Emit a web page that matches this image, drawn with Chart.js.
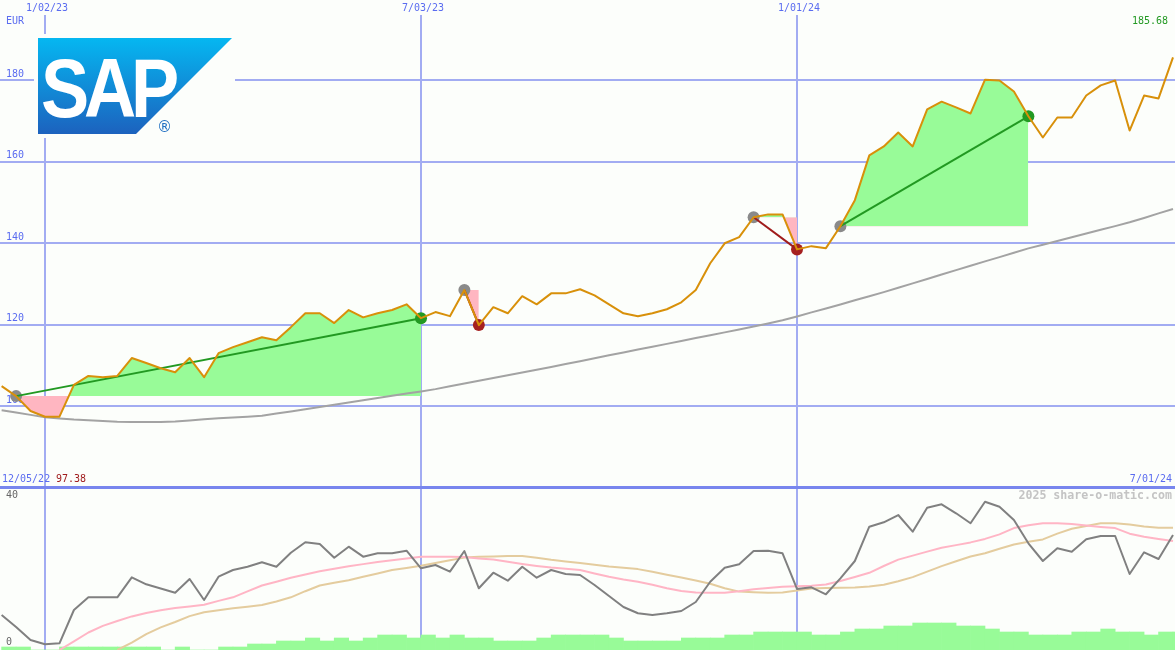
<!DOCTYPE html>
<html>
<head>
<meta charset="utf-8">
<title>SAP</title>
<script src="https://cdn.jsdelivr.net/npm/chart.js@4.4.1/dist/chart.umd.min.js"></script>
<style>
  html, body { margin: 0; padding: 0; background: #fcfefb; }
  #wrap { position: relative; width: 1175px; height: 650px; overflow: hidden; }
  #priceChart { position: absolute; left: 0; top: 0; }
  #oscChart { position: absolute; left: 0; top: 489px; }
</style>
</head>
<body>
<div id="wrap">
  <canvas id="priceChart" width="1175" height="489"></canvas>
  <canvas id="oscChart" width="1175" height="161"></canvas>
</div>
<script>
// weekly data, week 0 = 1/02/23, first point is week -3
const weekOffset = -3;

const price = [104.9, 102.45, 98.8, 97.38, 97.4, 105.2, 107.4, 107.1, 107.4, 111.8,
  110.6, 109.3, 108.3, 111.8, 107.1, 113.0, 114.5, 115.7, 116.9, 116.2,
  119.4, 122.8, 122.8, 120.4, 123.6, 121.8, 122.8, 123.6, 125.0, 121.6,
  123.1, 122.1, 128.5, 119.9, 124.3, 122.8, 127.0, 125.0, 127.7, 127.7,
  128.7, 127.2, 125.0, 122.8, 122.1, 122.8, 123.8, 125.5, 128.5, 135.1,
  140.0, 141.5, 146.4, 147.1, 147.1, 138.5, 139.3, 138.8, 144.2, 150.6,
  161.6, 163.8, 167.2, 163.8, 172.9, 174.8, 173.4, 171.9, 180.2, 180.0,
  177.3, 171.2, 166.0, 170.9, 170.9, 176.3, 178.8, 180.0, 167.7, 176.3,
  175.6, 185.68];

const priceAvg = [98.97, 98.43, 97.84, 97.25, 96.96, 96.71, 96.54, 96.34, 96.15, 96.07,
  96.07, 96.07, 96.22, 96.49, 96.76, 97.03, 97.2, 97.4, 97.62, 98.16,
  98.67, 99.21, 99.78, 100.34, 100.88, 101.45, 101.99, 102.53, 103.07, 103.58,
  104.17, 104.86, 105.55, 106.21, 106.9, 107.56, 108.25, 108.93, 109.62, 110.33,
  111.04, 111.75, 112.47, 113.15, 113.89, 114.58, 115.29, 116.0, 116.71, 117.42,
  118.11, 118.82, 119.53, 120.27, 121.08, 122.01, 123.02, 124.0, 124.98, 125.99,
  126.97, 128.0, 129.08, 130.16, 131.24, 132.32, 133.4, 134.48, 135.56, 136.61,
  137.69, 138.75, 139.66, 140.56, 141.5, 142.4, 143.34, 144.22, 145.15, 146.23,
  147.34, 148.44];

const osc = [8.16, 4.9, 1.36, 0.19, 0.46, 9.52, 12.98, 12.98, 12.98, 18.42,
  16.52, 15.37, 14.23, 17.96, 12.24, 18.59, 20.41, 21.31, 22.5, 21.31,
  25.12, 27.95, 27.48, 23.76, 26.75, 24.03, 24.95, 24.95, 25.66, 20.87,
  21.77, 19.95, 25.58, 15.43, 19.67, 17.5, 21.31, 18.31, 20.41, 19.32,
  19.05, 16.33, 13.33, 10.34, 8.63, 8.16, 8.63, 9.25, 11.7, 17.22,
  21.03, 21.96, 25.58, 25.66, 24.95, 15.24, 15.7, 13.8, 18.15, 22.86,
  32.19, 33.39, 35.37, 30.83, 37.36, 38.29, 35.84, 33.12, 38.99, 37.63,
  34.01, 27.67, 22.86, 26.31, 25.39, 28.76, 29.66, 29.66, 19.32, 25.22,
  23.4, 29.93];

const oscFast = [null, null, null, null, -1.36, 0.98, 3.4, 5.2, 6.53, 7.78,
  8.73, 9.44, 10.07, 10.48, 10.94, 12.0, 12.98, 14.61, 16.19, 17.22,
  18.29, 19.21, 20.05, 20.73, 21.44, 22.01, 22.59, 23.07, 23.56, 24.03,
  24.03, 24.03, 23.95, 23.56, 23.24, 22.64, 22.04, 21.52, 21.06, 20.73,
  20.41, 19.48, 18.59, 17.85, 17.2, 16.41, 15.46, 14.72, 14.29, 14.23,
  14.23, 14.61, 15.16, 15.51, 15.86, 16.0, 16.14, 16.44, 17.44, 18.5,
  19.65, 21.5, 23.24, 24.33, 25.41, 26.48, 27.18, 27.92, 28.87, 30.1,
  31.81, 32.57, 33.12, 33.12, 32.93, 32.49, 32.11, 31.81, 30.29, 29.44,
  28.84, 28.3];

const oscSlow = [null, null, null, null, null, null, null, null, -1.36, 0.63,
  2.97, 4.79, 6.26, 7.86, 8.93, 9.47, 9.99, 10.42, 10.86, 11.86,
  12.98, 14.64, 16.19, 16.93, 17.63, 18.56, 19.48, 20.41, 20.98, 21.55,
  22.31, 23.07, 23.78, 24.0, 24.11, 24.22, 24.24, 23.73, 23.18, 22.75,
  22.29, 21.85, 21.36, 21.03, 20.65, 19.92, 19.13, 18.34, 17.55, 16.68,
  15.46, 14.53, 14.34, 14.23, 14.31, 14.86, 15.37, 15.48, 15.56, 15.67,
  15.95, 16.41, 17.36, 18.48, 19.95, 21.47, 22.78, 24.08, 24.95, 26.18,
  27.35, 28.11, 28.73, 30.31, 31.62, 32.38, 33.12, 33.12, 32.82, 32.27,
  31.92, 31.92];

const volume = [1, 1, 0, 0, 1, 1, 1, 1, 1, 1,
  1, 0, 1, 0, 0, 1, 1, 2, 2, 3,
  3, 4, 3, 4, 3, 4, 5, 5, 4, 5,
  4, 5, 4, 4, 3, 3, 3, 4, 5, 5,
  5, 5, 4, 3, 3, 3, 3, 4, 4, 4,
  5, 5, 6, 6, 6, 6, 5, 5, 6, 7,
  7, 8, 8, 9, 9, 9, 8, 8, 7, 6,
  6, 5, 5, 5, 6, 6, 7, 6, 6, 5,
  6, 6];

const dateTickWeeks = [0, 26, 52];
const dateTickLabels = ['1/02/23', '7/03/23', '1/01/24'];
const priceTicks = [100, 120, 140, 160, 180];
const oscTicks = [0, 40];

// trades: entry / exit week
const tradeEntry = [-2, 29, 49, 55];
const tradeExit = [26, 30, 52, 68];

const startLabel = '12/05/22';
const endLabel = '7/01/24';
const lowLabel = '97.38';
const lastLabel = '185.68';

// ---- styles
const BG = '#fcfefb';
const GRID = '#a2acf2';
const AXIS_BLUE = '#7886ee';
const LABEL_BLUE = '#5a6cf0';
const WIN = '#229922';
const LOSS = '#a01c1c';
const FONT = '10px "DejaVu Sans Mono", monospace';
const X_MIN = -3.112, X_MAX = 78.138;

const pts = arr => arr.map((v, i) => v === null ? null : {x: i + weekOffset, y: v}).filter(Boolean);
const at = w => price[w - weekOffset];

const tradeFills = tradeEntry.map((e, t) => ({
  data: price.slice(e - weekOffset, tradeExit[t] - weekOffset + 1).map((v, i) => ({x: e + i, y: v})),
  borderWidth: 0,
  borderColor: 'rgba(0,0,0,0)',
  pointRadius: 0,
  fill: {target: {value: at(e)}, above: '#98fb98', below: '#ffb6c1'},
  order: 5
}));

const trendLines = tradeEntry.map((e, t) => ({
  data: [{x: e, y: at(e)}, {x: tradeExit[t], y: at(tradeExit[t])}],
  borderColor: at(tradeExit[t]) >= at(e) ? WIN : LOSS,
  borderWidth: 2,
  pointRadius: 0,
  order: 2
}));

let markerData = [], markerColors = [];
tradeEntry.forEach((e, t) => {
  const x = tradeExit[t];
  markerData.push({x: e, y: at(e)});
  markerColors.push('#8a8a8a');
  markerData.push({x: x, y: at(x)});
  markerColors.push(at(x) >= at(e) ? WIN : '#a52020');
});

function drawLogo(ctx) {
  ctx.save();
  ctx.fillStyle = BG;
  ctx.fillRect(34, 34, 201, 104);
  const g = ctx.createLinearGradient(0, 38, 0, 134);
  g.addColorStop(0, '#05b7f1');
  g.addColorStop(1, '#1c62be');
  ctx.fillStyle = g;
  ctx.beginPath();
  ctx.moveTo(38, 38);
  ctx.lineTo(232, 38);
  ctx.lineTo(136, 134);
  ctx.lineTo(38, 134);
  ctx.closePath();
  ctx.fill();
  ctx.fillStyle = '#ffffff';
  ctx.font = 'bold 84px "Liberation Sans", Arial, sans-serif';
  ctx.letterSpacing = '-6px';
  ctx.textBaseline = 'alphabetic';
  ctx.translate(41, 117);
  ctx.scale(0.86, 1);
  ctx.fillText('SAP', 0, 0);
  ctx.restore();
  ctx.save();
  ctx.fillStyle = '#1f6fc2';
  ctx.font = '15px "DejaVu Sans", sans-serif';
  ctx.textBaseline = 'middle';
  ctx.fillText('\u00AE', 157, 128);
  ctx.restore();
}

const priceDecor = {
  id: 'priceDecor',
  beforeDatasetsDraw(chart) {
    const {ctx, chartArea, scales: {x, y}} = chart;
    ctx.save();
    ctx.lineWidth = 2;
    ctx.strokeStyle = GRID;
    priceTicks.forEach(v => {
      const py = Math.round(y.getPixelForValue(v));
      ctx.beginPath(); ctx.moveTo(0, py); ctx.lineTo(chart.width, py); ctx.stroke();
    });
    dateTickWeeks.forEach(w => {
      const px = Math.round(x.getPixelForValue(w));
      ctx.beginPath(); ctx.moveTo(px, chartArea.top); ctx.lineTo(px, chart.height); ctx.stroke();
    });
    ctx.font = FONT;
    ctx.fillStyle = LABEL_BLUE;
    ctx.textBaseline = 'middle';
    ctx.textAlign = 'left';
    priceTicks.forEach(v => ctx.fillText(String(v), 6, y.getPixelForValue(v) - 6));
    ctx.fillText('EUR', 6, 21);
    ctx.restore();
  },
  afterDraw(chart) {
    const {ctx, scales: {x}} = chart;
    drawLogo(ctx);
    ctx.save();
    ctx.font = FONT;
    ctx.textBaseline = 'middle';
    ctx.fillStyle = LABEL_BLUE;
    ctx.textAlign = 'center';
    dateTickWeeks.forEach((w, i) => ctx.fillText(dateTickLabels[i], x.getPixelForValue(w) + 2, 8));
    ctx.textAlign = 'left';
    ctx.fillText(startLabel, 2, 479);
    ctx.fillStyle = LOSS;
    ctx.fillText(lowLabel, 56, 479);
    ctx.textAlign = 'right';
    ctx.fillStyle = LABEL_BLUE;
    ctx.fillText(endLabel, 1172, 479);
    ctx.fillStyle = WIN;
    ctx.fillText(lastLabel, 1168, 21);
    ctx.fillStyle = AXIS_BLUE;
    ctx.fillRect(0, 486, chart.width, 3);
    ctx.restore();
  }
};

const oscDecor = {
  id: 'oscDecor',
  beforeDatasetsDraw(chart) {
    const {ctx, scales: {x, y}} = chart;
    ctx.save();
    ctx.lineWidth = 2;
    ctx.strokeStyle = GRID;
    dateTickWeeks.forEach(w => {
      const px = Math.round(x.getPixelForValue(w));
      ctx.beginPath(); ctx.moveTo(px, 0); ctx.lineTo(px, chart.height); ctx.stroke();
    });
    ctx.font = FONT;
    ctx.fillStyle = '#666666';
    ctx.textBaseline = 'middle';
    oscTicks.forEach(v => ctx.fillText(String(v), 6, y.getPixelForValue(v) - 2.5));
    ctx.restore();
  },
  afterDraw(chart) {
    const {ctx} = chart;
    ctx.save();
    ctx.font = 'bold 11.6px "DejaVu Sans Mono", monospace';
    ctx.fillStyle = '#c4c4c4';
    ctx.textAlign = 'right';
    ctx.textBaseline = 'middle';
    ctx.fillText('2025 share-o-matic.com', 1172, 7);
    ctx.restore();
  }
};

const commonOptions = {
  responsive: false,
  animation: false,
  events: [],
  plugins: { legend: { display: false }, tooltip: { enabled: false } },
  elements: { line: { tension: 0, borderJoinStyle: 'round' } }
};

new Chart(document.getElementById('priceChart'), {
  type: 'line',
  data: {
    datasets: [
      { data: pts(price), borderColor: '#d8900a', borderWidth: 2, pointRadius: 0, fill: false, order: 1 },
      ...trendLines,
      { data: markerData, showLine: false, pointRadius: 6, pointBorderWidth: 0,
        pointBackgroundColor: markerColors, order: 3 },
      { data: pts(priceAvg), borderColor: '#a3a3a3', borderWidth: 2, pointRadius: 0, fill: false, order: 4 },
      ...tradeFills
    ]
  },
  options: {
    ...commonOptions,
    layout: { autoPadding: false, padding: { top: 15, left: 0, right: 0, bottom: 0 } },
    scales: {
      x: { type: 'linear', min: X_MIN, max: X_MAX, offset: false, display: false },
      y: { min: 79.63, max: 196.09, display: false }
    }
  },
  plugins: [priceDecor]
});

new Chart(document.getElementById('oscChart'), {
  type: 'line',
  data: {
    datasets: [
      { data: pts(osc), borderColor: '#808080', borderWidth: 2, pointRadius: 0, order: 1 },
      { data: pts(oscFast), borderColor: '#ffb5c5', borderWidth: 2, pointRadius: 0, order: 2 },
      { data: pts(oscSlow), borderColor: '#e4cc9e', borderWidth: 2, pointRadius: 0, order: 3 },
      { type: 'bar', data: volume.map((v, i) => ({x: i + weekOffset + 0.5, y: v})),
        backgroundColor: '#98fb98', borderWidth: 0, barPercentage: 1, categoryPercentage: 1,
        yAxisID: 'yv', order: 4 }
    ]
  },
  options: {
    ...commonOptions,
    layout: { autoPadding: false, padding: 0 },
    scales: {
      x: { type: 'linear', min: X_MIN, max: X_MAX, offset: false, display: false },
      y: { min: -1.36, max: 42.45, display: false },
      yv: { min: 0, max: 53.67, display: false }
    }
  },
  plugins: [oscDecor]
});
</script>
</body>
</html>
